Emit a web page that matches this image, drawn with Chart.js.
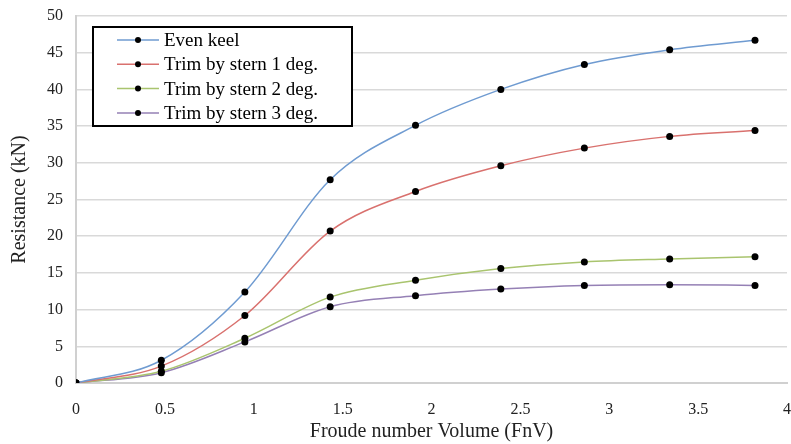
<!DOCTYPE html>
<html>
<head>
<meta charset="utf-8">
<script src="https://cdn.jsdelivr.net/npm/chart.js@4"></script>
<style>
    html, body { margin: 0; padding: 0; background: #fff; overflow: hidden; }
    #wrap { position: relative; width: 791px; height: 444px; }
</style>
</head>
<body>
<div id="wrap"><canvas id="chart"></canvas></div>
<script>
// Froude number values (x axis)
var froude = [0, 0.48, 0.95, 1.43, 1.91, 2.39, 2.86, 3.34, 3.82];

// Resistance (kN) for each trim condition
var evenKeel = [0, 3.1, 12.4, 27.7, 35.1, 40.0, 43.4, 45.4, 46.7];
var trim1 = [0, 2.3, 9.2, 20.7, 26.1, 29.6, 32.0, 33.6, 34.4];
var trim2 = [0, 1.6, 6.1, 11.7, 14.0, 15.6, 16.5, 16.9, 17.2];
var trim3 = [0, 1.4, 5.6, 10.4, 11.9, 12.8, 13.3, 13.4, 13.3];

var seriesNames = ['Even keel', 'Trim by stern 1 deg.', 'Trim by stern 2 deg.', 'Trim by stern 3 deg.'];
var seriesColors = ['#6F9BD1', '#D9716E', '#A9C46E', '#9580B5'];

var serif = "'Liberation Serif', 'Times New Roman', serif";

function toPoints(values) {
    return values.map(function(v, i) { return { x: froude[i], y: v }; });
}

function makeDataset(i, values) {
    return {
        label: seriesNames[i],
        data: toPoints(values),
        borderColor: seriesColors[i],
        backgroundColor: '#000',
        borderWidth: 1.5,
        pointRadius: 3.5,
        pointBackgroundColor: '#000',
        pointBorderColor: '#000',
        pointBorderWidth: 0,
        cubicInterpolationMode: 'monotone',
        fill: false
    };
}

// Légende encadrée dessinée dans la zone du graphique
var boxLegend = {
    id: 'boxLegend',
    afterDraw: function(chart) {
        var ctx = chart.ctx;
        var area = chart.chartArea;
        var x0 = area.left + 17, y0 = area.top + 11;
        var w = 259, h = 99;
        ctx.save();
        ctx.fillStyle = '#fff';
        ctx.fillRect(x0, y0, w, h);
        ctx.strokeStyle = '#000';
        ctx.lineWidth = 2;
        ctx.strokeRect(x0, y0, w, h);
        ctx.font = '19px ' + serif;
        ctx.textBaseline = 'middle';
        chart.data.datasets.forEach(function(ds, i) {
            var cy = y0 + 13 + i * 24.3;
            ctx.strokeStyle = ds.borderColor;
            ctx.lineWidth = 1.5;
            ctx.beginPath();
            ctx.moveTo(x0 + 24, cy);
            ctx.lineTo(x0 + 66, cy);
            ctx.stroke();
            ctx.fillStyle = '#000';
            ctx.beginPath();
            ctx.arc(x0 + 45, cy, 3, 0, Math.PI * 2);
            ctx.fill();
            ctx.fillText(ds.label, x0 + 71, cy + 1);
        });
        ctx.restore();
    }
};

new Chart(document.getElementById('chart'), {
    type: 'line',
    data: {
        datasets: [
            makeDataset(0, evenKeel),
            makeDataset(1, trim1),
            makeDataset(2, trim2),
            makeDataset(3, trim3)
        ]
    },
    options: {
        responsive: true,
        maintainAspectRatio: false,
        animation: false,
        layout: { padding: { top: 16, right: 3, bottom: 0, left: 8 } },
        plugins: {
            legend: { display: false },
            tooltip: { enabled: false }
        },
        scales: {
            x: {
                type: 'linear',
                min: 0,
                max: 4,
                ticks: {
                    stepSize: 0.5, color: '#222', font: { family: serif, size: 16 }, padding: 17,
                    callback: function(v) { return String(v); }
                },
                grid: { display: false, drawTicks: false },
                border: { color: '#D0D0D0', width: 2 },
                title: { display: true, text: 'Froude number Volume (FnV)', color: '#222', font: { family: serif, size: 20 }, padding: { top: 5, bottom: 0 } },
                afterFit: function(s) { s.height = 61; s.paddingLeft = 0; s.paddingRight = 0; }
            },
            y: {
                min: 0,
                max: 50,
                ticks: { stepSize: 5, color: '#222', font: { family: serif, size: 16 }, padding: 13 },
                grid: { color: '#D9D9D9', lineWidth: 1.5, drawTicks: false },
                border: { color: '#D0D0D0', width: 2 },
                title: { display: true, text: 'Resistance (kN)', color: '#222', font: { family: serif, size: 20 }, padding: 0 },
                afterFit: function(s) { s.width = 68; s.paddingTop = 0; s.paddingBottom = 0; }
            }
        }
    },
    plugins: [boxLegend]
});
</script>
</body>
</html>
